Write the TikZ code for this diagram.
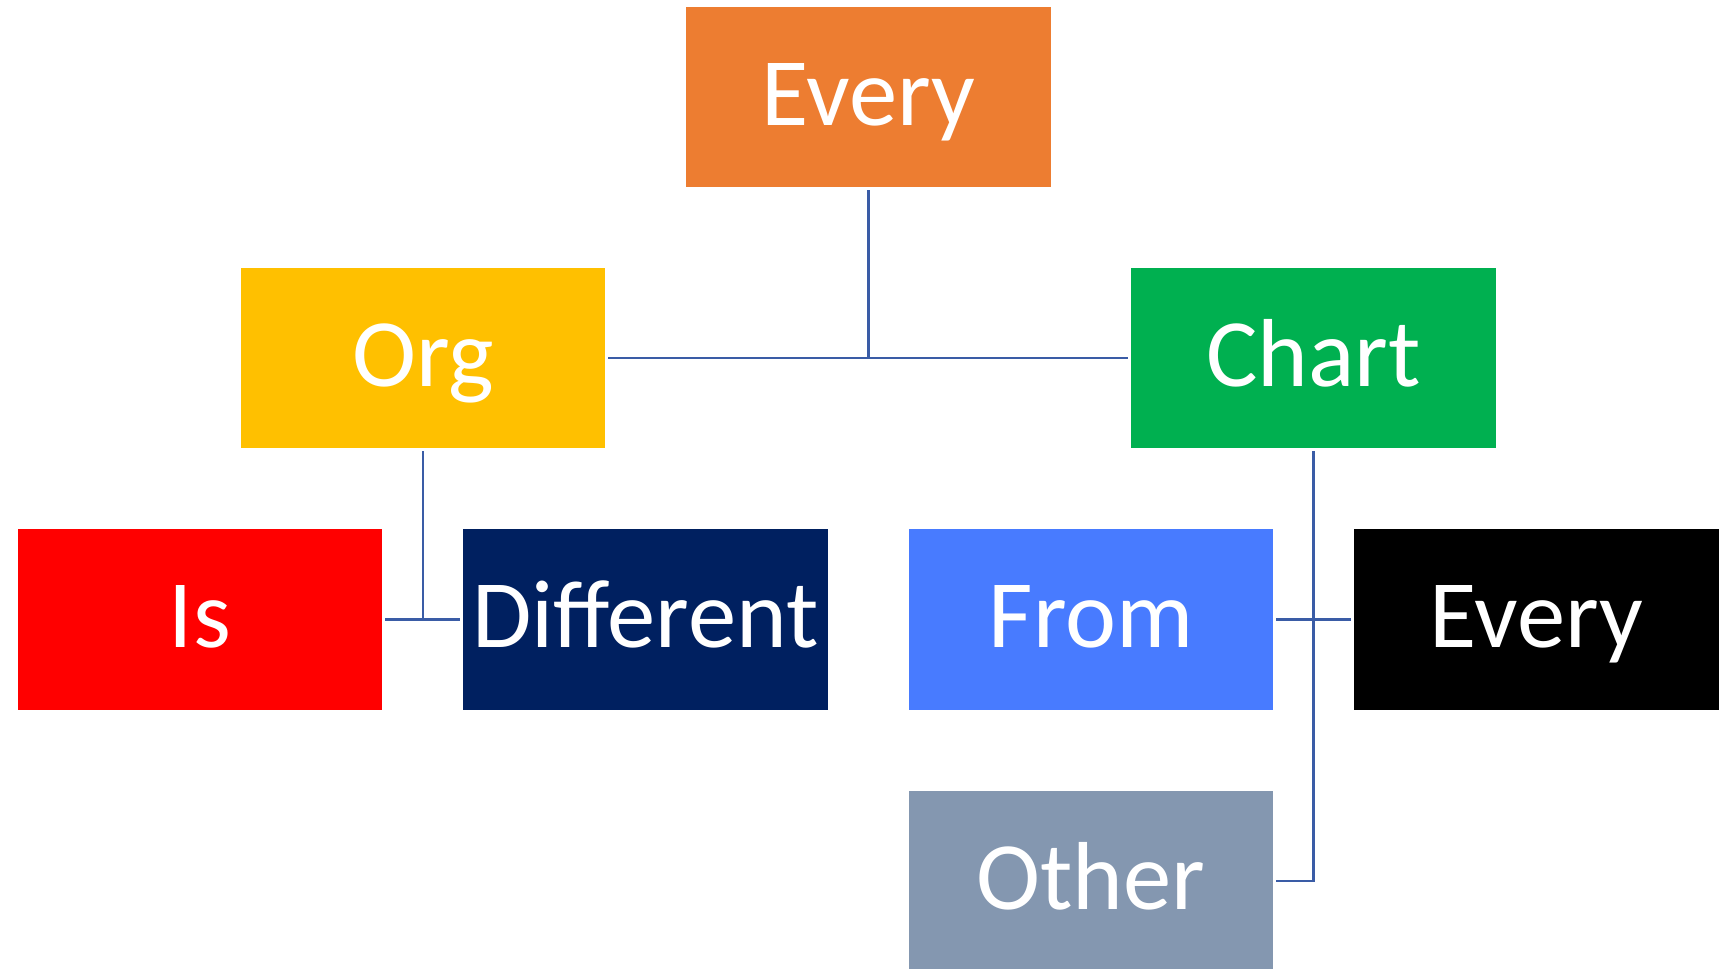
\documentclass[tikz,border=0pt]{standalone}
\usepackage{fontspec}
\setmainfont{Carlito}
\usepackage{xcolor}
\usepackage{tikz}
\usetikzlibrary{positioning}

\definecolor{orgorange}{HTML}{ED7D31}
\definecolor{orgyellow}{HTML}{FFC000}
\definecolor{orggreen}{HTML}{00B050}
\definecolor{orgred}{HTML}{FF0000}
\definecolor{orgnavy}{HTML}{002060}
\definecolor{orgblue}{HTML}{487BFF}
\definecolor{orggray}{HTML}{8497B0}
\definecolor{orgline}{HTML}{3A5CA6}

\begin{document}
\begin{tikzpicture}[x=0.02cm, y=-0.02cm,
    box/.style={rectangle, inner sep=0pt, outer sep=0.06cm,
      minimum width=7.3cm, minimum height=3.62cm,
      text=white, text height=1.24cm, text depth=0.1cm,
      font=\fontsize{55}{60}\selectfont},
    link/.style={draw=orgline, line width=1.7pt}]
  \useasboundingbox (0,0) rectangle (1729,969);
  % boxes
  \node [box, fill=orgorange] (top) at (868.5, 97) {Every};
  \node [box, fill=orgyellow] (org) at (423, 358) {Org};
  \node [box, fill=orggreen] (chart) at (1313.5, 358) {Chart};
  \node [box, fill=orgred] (is) at (200, 619.5) {Is};
  \node [box, fill=orgnavy] (diff) at (645.5, 619.5) {Different};
  \node [box, fill=orgblue] (from) at (1091, 619.5) {From};
  \node [box, fill=black] (every) at (1536.5, 619.5) {Every};
  \node [box, fill=orggray] (other) at (1091, 881) {Other};
  % links
  \draw [link] (top.south) -- (top.south |- org.east);
  \draw [link] (org.east) -- (chart.west);
  \draw [link] (org.south) -- (org.south |- is.east);
  \draw [link] (is.east) -- (diff.west);
  \draw [link] (chart.south) |- (other.east);
  \draw [link] (from.east) -- (every.west);
\end{tikzpicture}
\end{document}
